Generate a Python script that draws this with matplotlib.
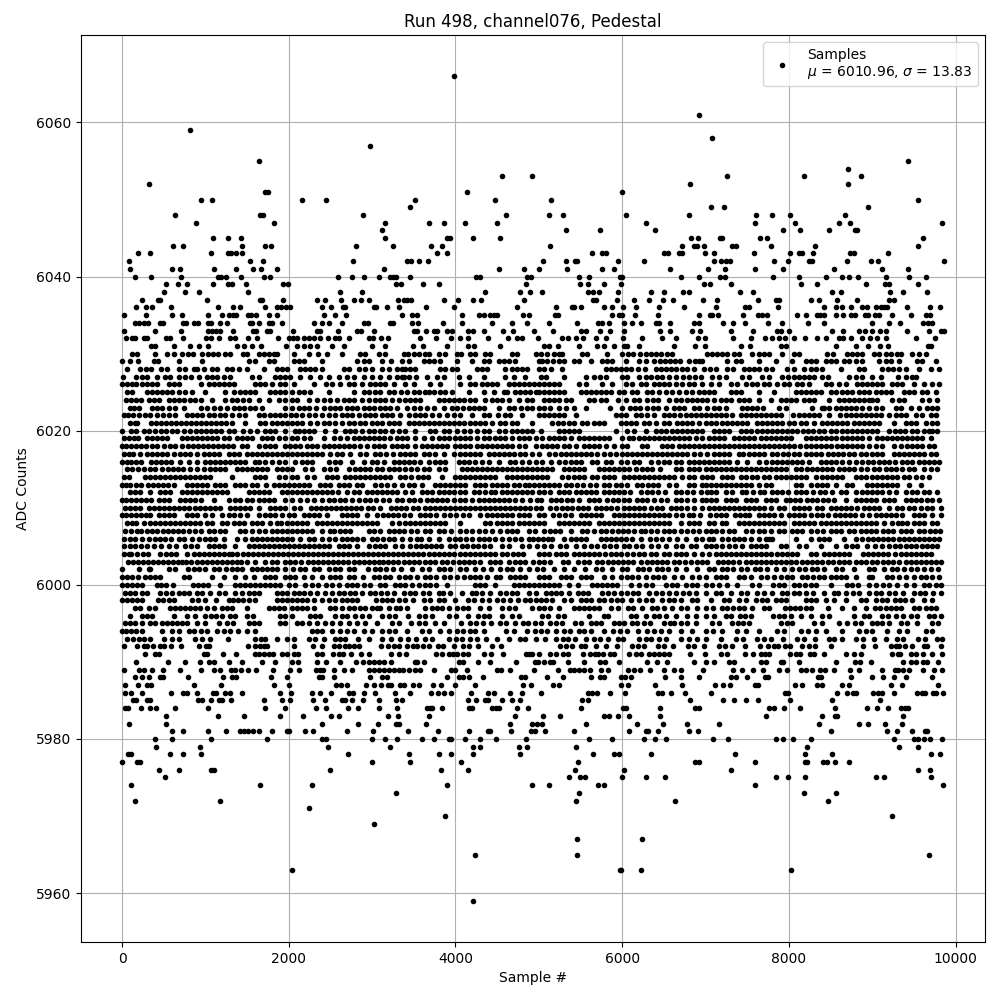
import matplotlib
matplotlib.use("Agg")
import matplotlib.pyplot as plt

title = "Run 498, channel076, Pedestal"
legend_label = "Samples\n$\\mu$ = 6010.96, $\\sigma$ = 13.83"

# Sample positions, one list per ADC level.
# Levels outside 5993-6031 are read point by point; the dense core is estimated.
samples_by_level = {
5959: [4216],
5963: [2040, 5972, 5980, 6220, 8024],
5965: [4240, 5452, 9680],
5967: [5452, 6232],
5969: [3024],
5970: [3880, 9236],
5971: [2244],
5972: [156, 1176, 5440, 6628, 8468],
5973: [3288, 5476, 8180, 8564],
5974: [108, 1656, 2280, 3904, 4924, 5116, 5704, 5776, 7592, 9848],
5975: [516, 5356, 5488, 5548, 5992, 6280, 6508, 7844, 7988, 8192, 9044, 9140, 9704],
5976: [444, 684, 1068, 1104, 2496, 3832, 4156, 5428, 6016, 7304, 9548, 9692],
5977: [0, 180, 216, 3000, 3460, 4072, 5472, 6876, 6916, 7592, 8192, 8216, 8408, 8456, 8552, 8720],
5978: [72, 104, 576, 732, 948, 2712, 3448, 3808, 3952, 4216, 4780, 5644, 5896, 5956, 6340, 7352, 8192, 8516, 9704, 9812],
5979: [408, 936, 2472, 3216, 4216, 4300, 4768, 4864, 5440, 8216, 9320, 9548],
5980: [396, 600, 1068, 1740, 2400, 2448, 3000, 3156, 3300, 3604, 3748, 3928, 3952, 4120, 4300, 4492, 4852, 5596, 5872, 6256, 6388, 6520, 7088, 7268, 7844, 7928, 8048, 8264, 9260, 9500, 9548, 9620, 9692, 9836],
5981: [600, 732, 1032, 1248, 1416, 1464, 1512, 1572, 1644, 1800, 1980, 2004, 2196, 2292, 2700, 3012, 3436, 3796, 4168, 4396, 4420, 4672, 4912, 4948, 5068, 5416, 6076, 6280, 6304, 6424, 6796, 6904, 8504, 9176, 9296, 9476, 9632, 9656],
5982: [84, 528, 2400, 2832, 3072, 3288, 3324, 3652, 4660, 4924, 4972, 5032, 5560, 6172, 6484, 6772, 7160, 8360, 8840, 8948, 9152, 9356],
5983: [528, 1152, 1464, 1896, 2172, 2508, 2604, 3192, 3312, 3688, 4720, 5044, 5248, 5776, 5836, 5944, 6076, 6448, 7724, 8396, 8552, 8576, 9368],
5984: [36, 72, 228, 336, 408, 636, 1032, 1716, 1956, 2328, 2448, 2712, 2832, 3084, 3300, 3664, 3700, 3724, 3844, 4168, 4204, 4444, 4492, 4528, 4744, 4876, 5500, 6004, 6040, 6448, 6872, 6920, 7760, 7820, 7940, 8132, 8552, 8936, 9056, 9188, 9344, 9392, 9428],
5985: [132, 168, 300, 336, 912, 960, 1068, 1164, 1200, 1308, 1704, 1920, 2016, 2292, 2436, 2640, 2676, 2760, 2892, 3084, 3288, 3364, 4156, 4252, 4360, 4396, 4564, 4684, 4780, 5512, 5584, 6808, 7208, 7340, 7484, 7628, 8012, 8516, 9092],
5986: [36, 108, 240, 588, 732, 780, 900, 1092, 1128, 1236, 1296, 1440, 1896, 2028, 2280, 2376, 2508, 2724, 2772, 2904, 3036, 3276, 3460, 3712, 3796, 3868, 3952, 4192, 4396, 4468, 4660, 4804, 5020, 5584, 5632, 5692, 5848, 6028, 6424, 6472, 6580, 6748, 7064, 7952, 7988, 8576, 8696, 8768, 8804, 9008, 9068, 9116, 9260, 9536, 9596, 9632, 9728, 9764, 9848],
5987: [36, 192, 300, 348, 864, 1188, 1824, 2004, 2568, 2628, 2700, 2928, 3024, 3108, 3192, 3228, 3336, 3388, 3496, 3568, 3736, 3832, 4000, 4240, 4816, 4912, 5164, 5236, 5980, 6064, 6388, 6712, 7112, 7208, 7292, 7592, 7628, 8072, 8156, 8336, 8396, 8636, 8720, 9224, 9356, 9788],
5988: [156, 240, 324, 456, 492, 792, 1212, 1320, 1368, 1788, 1980, 2364, 2400, 2544, 2976, 3120, 3180, 3904, 4048, 4096, 4168, 4336, 4792, 4840, 5092, 5284, 5620, 5728, 5776, 5980, 6028, 6100, 6508, 6700, 6916, 7304, 7364, 7492, 7708, 7744, 8348, 8384, 8744, 8996, 9128, 9260, 9404, 9716],
5989: [24, 204, 264, 360, 492, 696, 948, 1104, 1176, 1308, 1356, 1428, 1512, 1608, 1812, 2016, 2124, 2328, 2376, 2412, 2544, 2664, 2760, 2964, 3024, 3084, 3144, 3204, 3264, 3324, 3376, 3448, 3520, 3580, 3748, 3952, 4000, 4144, 4504, 4552, 4660, 4936, 5224, 5368, 5416, 5476, 5536, 5608, 5740, 5824, 6064, 6136, 6208, 6328, 6496, 6616, 6700, 6968, 7328, 7436, 7568, 7688, 7880, 7976, 8144, 8204, 8276, 8372, 8432, 8540, 8732, 8840, 9116, 9272, 9308, 9368, 9440, 9608, 9740, 9836],
5990: [168, 552, 756, 936, 1044, 1104, 1284, 1440, 1680, 1836, 2040, 2112, 2340, 2448, 2616, 2808, 2892, 2964, 3024, 3084, 3144, 3228, 3520, 3544, 3628, 4048, 4096, 4276, 4420, 4732, 4948, 4984, 5056, 5128, 5164, 5344, 5536, 5728, 5788, 5956, 6292, 6412, 6532, 6856, 7004, 7100, 7280, 7340, 7664, 7724, 7904, 7928, 8120, 8564, 8792, 8852, 8984, 9368, 9464, 9524, 9608, 9656, 9788],
5991: [276, 396, 444, 984, 1020, 1212, 1368, 1596, 1644, 1704, 1764, 1812, 1920, 1980, 2064, 2112, 2340, 2400, 2532, 2604, 2652, 2748, 2868, 2964, 3228, 3324, 3412, 3772, 3844, 3928, 3976, 4024, 4096, 4156, 4348, 4432, 4576, 4852, 4888, 4924, 4996, 5128, 5200, 5284, 5344, 5524, 5608, 5668, 5704, 5764, 5848, 5896, 6076, 6160, 6220, 6316, 6376, 6436, 6496, 6556, 6808, 6992, 7184, 7256, 7472, 7568, 7664, 7712, 7760, 8012, 8084, 8132, 8252, 8300, 8420, 8684, 8780, 8864, 9236, 9308, 9332, 9464, 9524, 9608, 9716, 9836],
5992: [24, 180, 264, 300, 372, 456, 504, 588, 708, 924, 1008, 1044, 1512, 1596, 1656, 1704, 1740, 2064, 2292, 2400, 2544, 2604, 2676, 2724, 2784, 2844, 3108, 3192, 3264, 3324, 3424, 3496, 3544, 3616, 3688, 3796, 3856, 3988, 4096, 4168, 4276, 4444, 4552, 5248, 5320, 5392, 5500, 5548, 5680, 5800, 5932, 6112, 6184, 6256, 6424, 6496, 6604, 6784, 6856, 6980, 7160, 7232, 7316, 7472, 7652, 7748, 7820, 7868, 7952, 8012, 8156, 8240, 8312, 8504, 8888, 9032, 9224, 9284, 9320, 9392, 9476, 9620, 9656, 9824],
5993: [60, 130, 200, 260, 330, 500, 600, 680, 880, 960, 1060, 1270, 1600, 1670, 1720, 1860, 1980, 2060, 2240, 2320, 2420, 2560, 2620, 2680, 2830, 2960, 3120, 3230, 3330, 3430, 3530, 3640, 3720, 3920, 4010, 4080, 4180, 4260, 4370, 4500, 4640, 4780, 4840, 4970, 5070, 5200, 5290, 5350, 5430, 5570, 5660, 5730, 5830, 5950, 6010, 6200, 6280, 6340, 6440, 6520, 6700, 6800, 6900, 7000, 7180, 7360, 7450, 7620, 7700, 7780, 7930, 8100, 8180, 8310, 8480, 8540, 8640, 8800, 8890, 9020, 9160, 9300, 9370, 9550, 9630, 9780, 9840],
5994: [0, 50, 110, 170, 240, 480, 600, 680, 800, 860, 950, 1020, 1140, 1220, 1290, 1390, 1500, 1600, 2280, 2340, 2400, 2520, 2620, 2700, 2780, 2900, 3000, 3120, 3200, 3280, 3420, 3600, 3680, 3820, 3920, 4020, 4090, 4170, 4240, 4340, 4610, 4700, 4860, 4950, 5020, 5100, 5200, 5300, 5370, 5480, 5540, 5620, 5780, 5890, 5970, 6060, 6190, 6300, 6380, 6460, 6560, 6700, 6840, 7000, 7090, 7200, 7380, 7490, 7640, 7860, 7940, 8140, 8230, 8330, 8450, 8640, 8840, 8930, 9000, 9180, 9320, 9420, 9640, 9720],
5995: [40, 100, 160, 240, 330, 400, 480, 540, 600, 660, 720, 780, 900, 1000, 1160, 1260, 1330, 1520, 1580, 1640, 1900, 1960, 2100, 2160, 2240, 2340, 2430, 2520, 2620, 2720, 2820, 2920, 3060, 3240, 3320, 3470, 3560, 3640, 3760, 3860, 4070, 4180, 4250, 4330, 4430, 4540, 4610, 4720, 4810, 4870, 4950, 5020, 5130, 5210, 5280, 5430, 5500, 5620, 5680, 5740, 5900, 5960, 6020, 6120, 6180, 6260, 6330, 6500, 6570, 6620, 6700, 6780, 6880, 7080, 7160, 7320, 7390, 7450, 7520, 7900, 7980, 8040, 8300, 8400, 8600, 8700, 8790, 8860, 9000, 9060, 9120, 9200, 9340, 9420, 9540, 9720, 9790],
5996: [90, 240, 300, 360, 620, 780, 880, 1000, 1070, 1130, 1200, 1300, 1360, 1500, 1570, 1900, 1960, 2040, 2260, 2320, 2380, 2560, 2640, 2700, 2800, 2880, 2960, 3120, 3200, 3280, 3430, 3560, 3640, 3720, 3920, 4010, 4150, 4270, 4340, 4400, 4560, 4680, 4760, 5040, 5110, 5230, 5300, 5600, 5780, 5830, 6100, 6160, 6280, 6380, 6440, 6520, 6640, 6780, 6880, 7000, 7100, 7240, 7300, 7410, 7470, 7540, 7810, 7880, 7940, 8020, 8140, 8260, 8400, 8480, 8780, 8900, 8960, 9120, 9190, 9280, 9370, 9460, 9540, 9680, 9740, 9820],
5997: [150, 220, 320, 400, 580, 640, 700, 760, 820, 880, 940, 1020, 1100, 1200, 1260, 1320, 1500, 1760, 1820, 1880, 1940, 2040, 2100, 2160, 2220, 2300, 2500, 2560, 2640, 2720, 2780, 2850, 2920, 3000, 3060, 3100, 3200, 3290, 3340, 3420, 3640, 3720, 3780, 3840, 3920, 4020, 4090, 4150, 4300, 4400, 4560, 4640, 4720, 4920, 5000, 5060, 5130, 5240, 5420, 5480, 5540, 5600, 5660, 5720, 5860, 5950, 6070, 6130, 6240, 6360, 6420, 6500, 6600, 6700, 6780, 6900, 7000, 7090, 7200, 7260, 7330, 7400, 7460, 7560, 7700, 7760, 7950, 8010, 8070, 8130, 8200, 8260, 8470, 8640, 8780, 8920, 9030, 9090, 9160, 9220, 9280, 9340, 9500, 9560, 9640, 9700, 9760],
5998: [0, 60, 120, 180, 240, 430, 490, 560, 620, 840, 910, 990, 1130, 1280, 1330, 1390, 1450, 1520, 1600, 1860, 1920, 1980, 2040, 2100, 2160, 2220, 2300, 2400, 2480, 2560, 2640, 2700, 2760, 2820, 3050, 3120, 3180, 3240, 3320, 3400, 3490, 3620, 3700, 3800, 3860, 4000, 4150, 4220, 4320, 4400, 4500, 4570, 4650, 4750, 4830, 4900, 4960, 5030, 5090, 5160, 5300, 5380, 5500, 5560, 5620, 5720, 5780, 5870, 5940, 6000, 6100, 6200, 6290, 6360, 6480, 6560, 6620, 6700, 6840, 6900, 7060, 7220, 7280, 7400, 7480, 7610, 7680, 7740, 7840, 7910, 7970, 8200, 8270, 8320, 8440, 8540, 8680, 8860, 8920, 9040, 9120, 9180, 9270, 9330, 9390, 9480, 9620, 9720],
5999: [30, 100, 160, 240, 300, 460, 530, 600, 680, 740, 800, 900, 960, 1060, 1160, 1240, 1360, 1440, 1520, 1580, 1640, 1860, 1920, 1980, 2060, 2120, 2180, 2260, 2340, 2440, 2520, 2600, 2660, 2730, 2800, 2880, 2980, 3040, 3110, 3180, 3260, 3380, 3450, 3520, 3610, 3680, 3800, 3850, 3930, 4080, 4200, 4250, 4320, 4420, 4530, 4610, 4680, 4740, 4880, 4970, 5080, 5140, 5200, 5260, 5360, 5470, 5530, 5590, 5760, 5830, 5900, 5980, 6060, 6130, 6190, 6320, 6400, 6480, 6560, 6640, 6730, 6800, 6880, 7000, 7120, 7180, 7300, 7420, 7500, 7620, 7700, 7800, 7920, 7980, 8060, 8120, 8210, 8290, 8420, 8540, 8590, 8680, 8770, 8840, 8960, 9040, 9100, 9200, 9270, 9370, 9500, 9570, 9630, 9730, 9820],
6000: [0, 60, 120, 180, 240, 420, 470, 530, 610, 850, 910, 970, 1030, 1180, 1360, 1420, 1480, 1540, 1600, 1660, 1720, 1780, 1840, 1900, 2000, 2080, 2200, 2280, 2350, 2450, 2520, 2600, 2700, 2760, 2820, 2900, 2980, 3100, 3160, 3270, 3330, 3400, 3480, 3560, 3640, 3700, 3770, 3900, 4240, 4290, 4350, 4480, 4700, 4760, 4820, 4880, 4940, 5000, 5060, 5120, 5180, 5240, 5360, 5470, 5640, 5700, 5760, 5820, 5880, 5940, 6110, 6200, 6290, 6360, 6530, 6600, 6660, 6760, 6840, 6900, 7000, 7080, 7160, 7260, 7380, 7560, 7640, 7810, 7880, 7940, 8060, 8120, 8190, 8260, 8320, 8500, 8700, 8760, 8830, 8960, 9040, 9130, 9200, 9300, 9400, 9500, 9620, 9680, 9760, 9820],
6001: [0, 60, 120, 190, 270, 330, 390, 460, 740, 800, 1080, 1220, 1350, 1480, 1580, 1720, 1780, 1840, 1960, 2020, 2080, 2180, 2280, 2400, 2500, 2560, 2620, 2720, 2780, 2890, 3020, 3080, 3150, 3220, 3320, 3400, 3460, 3540, 3640, 3700, 3770, 3860, 3940, 4020, 4100, 4170, 4230, 4290, 4380, 4490, 4540, 4650, 4710, 4770, 4830, 5000, 5060, 5120, 5260, 5320, 5380, 5500, 5560, 5620, 5780, 5880, 5980, 6060, 6120, 6190, 6280, 6370, 6430, 6500, 6620, 6720, 6840, 6920, 7000, 7120, 7180, 7240, 7400, 7460, 7540, 7660, 7740, 7820, 7900, 7980, 8040, 8160, 8220, 8290, 8360, 8420, 8500, 8560, 8620, 8680, 8800, 8960, 9000, 9180, 9240, 9320, 9400, 9500, 9580, 9640, 9720, 9800],
6002: [0, 200, 320, 340, 560, 640, 790, 860, 920, 1000, 1100, 1160, 1250, 1320, 1380, 1440, 1560, 1620, 1680, 1740, 1800, 1860, 1950, 2050, 2130, 2200, 2300, 2360, 2480, 2560, 2620, 2720, 2780, 2950, 3040, 3100, 3170, 3250, 3350, 3480, 3600, 3680, 3800, 3860, 3930, 4050, 4130, 4230, 4330, 4430, 4530, 4620, 4680, 4780, 4880, 4980, 5050, 5180, 5300, 5420, 5550, 5680, 5760, 5880, 6000, 6060, 6190, 6250, 6320, 6420, 6480, 6550, 6650, 6760, 6900, 7040, 7100, 7200, 7260, 7330, 7420, 7500, 7590, 7650, 7740, 7850, 7940, 8040, 8120, 8190, 8280, 8340, 8420, 8560, 8640, 8780, 8960, 9020, 9140, 9240, 9300, 9380, 9460, 9540, 9620, 9700, 9790],
6003: [70, 130, 190, 250, 310, 370, 430, 490, 550, 610, 670, 720, 770, 830, 900, 960, 1020, 1080, 1140, 1200, 1260, 1320, 1380, 1430, 1500, 1600, 1720, 1800, 1860, 1950, 2010, 2070, 2150, 2230, 2290, 2350, 2410, 2470, 2530, 2590, 2650, 2710, 2780, 2840, 2900, 2960, 3020, 3080, 3130, 3190, 3250, 3310, 3380, 3440, 3500, 3560, 3640, 3700, 3760, 3840, 3900, 3970, 4040, 4100, 4160, 4220, 4300, 4420, 4480, 4540, 4640, 4710, 4770, 4830, 4930, 5000, 5060, 5130, 5290, 5350, 5470, 5540, 5600, 5700, 5760, 5830, 5890, 5950, 6010, 6070, 6130, 6220, 6300, 6360, 6420, 6480, 6540, 6620, 6680, 6750, 6830, 6900, 6960, 7020, 7150, 7210, 7270, 7330, 7400, 7480, 7540, 7600, 7660, 7720, 7780, 7840, 7910, 7970, 8030, 8090, 8160, 8220, 8280, 8340, 8400, 8470, 8530, 8600, 8660, 8720, 8800, 8860, 8920, 9000, 9060, 9130, 9190, 9250, 9320, 9400, 9460, 9520, 9580, 9640, 9700, 9760, 9820],
6004: [20, 80, 110, 180, 250, 310, 460, 530, 590, 650, 780, 860, 920, 980, 1040, 1100, 1160, 1220, 1280, 1320, 1380, 1450, 1510, 1570, 1630, 1690, 1750, 1810, 1870, 1930, 1990, 2050, 2110, 2170, 2230, 2290, 2350, 2410, 2470, 2530, 2590, 2650, 2710, 2770, 2830, 2890, 2950, 3010, 3070, 3130, 3190, 3250, 3310, 3370, 3430, 3490, 3550, 3610, 3680, 3740, 3800, 3860, 3920, 3980, 4050, 4120, 4180, 4240, 4300, 4360, 4420, 4480, 4560, 4620, 4690, 4750, 4810, 5000, 5060, 5120, 5200, 5260, 5320, 5420, 5480, 5540, 5600, 5660, 5720, 5790, 5860, 5920, 5980, 6060, 6130, 6200, 6260, 6340, 6400, 6500, 6560, 6640, 6700, 6760, 6860, 6960, 7040, 7120, 7180, 7240, 7300, 7360, 7420, 7480, 7540, 7600, 7660, 7720, 7780, 7860, 7920, 7980, 8040, 8100, 8260, 8320, 8420, 8480, 8540, 8600, 8660, 8720, 8890, 8950, 9010, 9070, 9130, 9190, 9270, 9340, 9400, 9460, 9520, 9580, 9640, 9700],
6005: [20, 100, 160, 230, 300, 380, 470, 560, 650, 750, 830, 900, 1040, 1100, 1160, 1220, 1350, 1520, 1580, 1640, 1700, 1760, 1820, 1880, 1940, 2000, 2060, 2120, 2180, 2240, 2300, 2360, 2420, 2480, 2600, 2660, 2720, 2820, 2960, 3040, 3100, 3160, 3280, 3360, 3450, 3530, 3590, 3650, 3710, 3770, 3830, 3940, 4000, 4080, 4140, 4210, 4270, 4340, 4410, 4560, 4640, 4800, 4880, 4980, 5060, 5150, 5250, 5330, 5440, 5540, 5620, 5700, 5780, 5850, 5930, 6020, 6080, 6160, 6240, 6340, 6430, 6520, 6640, 6720, 6820, 6880, 7000, 7060, 7120, 7200, 7280, 7350, 7440, 7540, 7610, 7670, 7730, 7900, 7960, 8120, 8200, 8380, 8560, 8680, 8760, 8820, 8940, 9030, 9120, 9200, 9270, 9330, 9410, 9470, 9530, 9600, 9660, 9720, 9780],
6006: [20, 90, 150, 240, 320, 400, 460, 520, 590, 680, 740, 840, 920, 1000, 1060, 1120, 1220, 1380, 1480, 1560, 1620, 1680, 1740, 1800, 1860, 1920, 1980, 2040, 2130, 2240, 2300, 2400, 2480, 2560, 2640, 2700, 2760, 2820, 2890, 3000, 3060, 3130, 3200, 3260, 3360, 3450, 3540, 3590, 3680, 3800, 3920, 4000, 4060, 4130, 4200, 4280, 4340, 4400, 4480, 4560, 4640, 4720, 4790, 4880, 4930, 4990, 5050, 5110, 5160, 5300, 5380, 5440, 5500, 5560, 5740, 5810, 5860, 5930, 5990, 6050, 6120, 6230, 6330, 6400, 6480, 6560, 6660, 6760, 6880, 6960, 7040, 7090, 7200, 7270, 7340, 7400, 7460, 7540, 7640, 7720, 7760, 7800, 8080, 8260, 8360, 8420, 8480, 8660, 8810, 8880, 8950, 9010, 9070, 9130, 9190, 9250, 9320, 9380, 9440, 9500, 9560, 9620, 9680, 9740, 9800],
6007: [40, 110, 180, 230, 300, 360, 420, 490, 550, 610, 670, 730, 800, 880, 950, 1040, 1100, 1180, 1230, 1420, 1480, 1560, 1640, 1720, 1800, 1860, 1920, 1980, 2040, 2100, 2160, 2220, 2280, 2400, 2490, 2540, 2620, 2680, 2740, 2960, 3020, 3090, 3200, 3260, 3320, 3380, 3470, 3540, 3640, 3700, 3800, 3860, 3950, 4060, 4130, 4200, 4280, 4360, 4440, 4540, 4620, 4680, 4740, 4880, 4950, 5060, 5130, 5190, 5250, 5380, 5520, 5580, 5660, 5750, 5800, 5880, 5950, 6010, 6070, 6140, 6220, 6270, 6340, 6420, 6500, 6560, 6620, 6700, 6780, 6850, 6920, 7000, 7060, 7130, 7200, 7280, 7340, 7490, 7560, 7640, 7700, 7780, 7880, 7940, 8040, 8100, 8160, 8260, 8340, 8410, 8500, 8560, 8620, 8720, 8780, 8860, 8920, 8980, 9040, 9130, 9190, 9250, 9340, 9400, 9460, 9560, 9620, 9690, 9750, 9810],
6008: [60, 120, 170, 260, 340, 400, 460, 520, 580, 640, 700, 760, 820, 880, 940, 1020, 1080, 1200, 1260, 1340, 1400, 1460, 1560, 1620, 1680, 1780, 1860, 1910, 1980, 2040, 2100, 2160, 2220, 2340, 2400, 2460, 2520, 2580, 2640, 2700, 2760, 2820, 2880, 2940, 3000, 3060, 3240, 3320, 3400, 3460, 3520, 3580, 3640, 3700, 3760, 3820, 3880, 4050, 4350, 4420, 4500, 4560, 4620, 4680, 4760, 4820, 4880, 4940, 5000, 5060, 5240, 5300, 5360, 5420, 5480, 5540, 5600, 5720, 5780, 5840, 5900, 5960, 6020, 6080, 6140, 6200, 6260, 6320, 6380, 6440, 6500, 6560, 6700, 6800, 6860, 6920, 7040, 7100, 7200, 7250, 7400, 7460, 7520, 7580, 7640, 7700, 7760, 7820, 7880, 7940, 8060, 8120, 8180, 8240, 8300, 8380, 8450, 8500, 8560, 8620, 8680, 8740, 8800, 8860, 8920, 8980, 9040, 9140, 9240, 9310, 9360, 9420, 9500, 9560, 9620, 9720, 9780],
6009: [0, 50, 110, 170, 230, 290, 340, 440, 500, 560, 620, 780, 840, 900, 1000, 1080, 1200, 1280, 1340, 1420, 1500, 1640, 1720, 1780, 1840, 1920, 2000, 2060, 2180, 2240, 2300, 2360, 2460, 2640, 2700, 2760, 2820, 2940, 3060, 3130, 3190, 3250, 3310, 3380, 3460, 3570, 3630, 3690, 3770, 3860, 3940, 4010, 4090, 4160, 4300, 4380, 4440, 4500, 4560, 4620, 4680, 4760, 4820, 4880, 5000, 5060, 5170, 5240, 5310, 5380, 5510, 5570, 5630, 5690, 5750, 5900, 5960, 6020, 6080, 6140, 6200, 6260, 6320, 6380, 6440, 6500, 6560, 6640, 6720, 6800, 6850, 6930, 7050, 7130, 7190, 7250, 7350, 7410, 7470, 7520, 7640, 7700, 7760, 7820, 7900, 8000, 8060, 8120, 8180, 8260, 8340, 8400, 8470, 8550, 8610, 8670, 8730, 8790, 8880, 8960, 9040, 9100, 9160, 9220, 9280, 9360, 9500, 9560, 9620, 9720, 9830],
6010: [40, 100, 160, 220, 320, 380, 440, 500, 560, 620, 680, 740, 800, 880, 940, 1000, 1060, 1120, 1180, 1300, 1360, 1420, 1480, 1540, 1640, 1780, 1840, 1900, 1960, 2060, 2140, 2270, 2330, 2390, 2450, 2510, 2570, 2630, 2690, 2750, 2810, 2870, 2950, 3010, 3100, 3230, 3290, 3350, 3410, 3490, 3550, 3640, 3700, 3760, 3820, 3880, 3940, 4000, 4060, 4120, 4180, 4240, 4300, 4360, 4420, 4480, 4540, 4600, 4660, 4720, 4780, 4840, 4900, 4960, 5020, 5130, 5200, 5280, 5340, 5400, 5470, 5530, 5590, 5680, 5740, 5800, 5860, 5940, 6020, 6080, 6140, 6200, 6260, 6350, 6420, 6480, 6580, 6650, 6700, 6780, 6860, 6960, 7040, 7100, 7160, 7220, 7280, 7340, 7400, 7460, 7520, 7580, 7640, 7700, 7780, 7880, 7940, 8060, 8120, 8180, 8240, 8340, 8400, 8500, 8560, 8620, 8680, 8740, 8820, 8900, 8960, 9020, 9080, 9200, 9300, 9360, 9440, 9500, 9580, 9660, 9720, 9830],
6011: [0, 50, 110, 170, 230, 290, 350, 440, 500, 560, 700, 760, 820, 880, 950, 1100, 1280, 1360, 1420, 1500, 1560, 1640, 1700, 1760, 1820, 1960, 2040, 2140, 2220, 2300, 2400, 2480, 2540, 2620, 2680, 2760, 2840, 2920, 2980, 3050, 3130, 3200, 3300, 3360, 3440, 3500, 3580, 3660, 3720, 3780, 3840, 3900, 3980, 4050, 4120, 4200, 4280, 4340, 4400, 4460, 4520, 4580, 4640, 4720, 4800, 4890, 4980, 5030, 5140, 5200, 5260, 5340, 5400, 5480, 5600, 5660, 5720, 5820, 5890, 5950, 6020, 6080, 6180, 6240, 6300, 6380, 6460, 6540, 6640, 6700, 6780, 6860, 6960, 7000, 7060, 7120, 7240, 7300, 7360, 7480, 7540, 7610, 7720, 7780, 7840, 7960, 8010, 8070, 8130, 8220, 8280, 8340, 8410, 8470, 8540, 8690, 8800, 8860, 8920, 8980, 9040, 9140, 9200, 9260, 9400, 9460, 9520, 9580, 9660, 9720, 9800],
6012: [90, 150, 220, 340, 460, 520, 580, 720, 780, 840, 900, 960, 1020, 1080, 1140, 1200, 1260, 1520, 1580, 1640, 1700, 1760, 1920, 1980, 2040, 2100, 2160, 2220, 2280, 2340, 2400, 2460, 2520, 2590, 2700, 2780, 2840, 2940, 3000, 3060, 3120, 3180, 3240, 3300, 3400, 3480, 3600, 3660, 3720, 3800, 3860, 3920, 3980, 4050, 4120, 4220, 4280, 4360, 4430, 4480, 4560, 4620, 4680, 4740, 4800, 4860, 4920, 5000, 5060, 5130, 5240, 5300, 5360, 5440, 5510, 5570, 5630, 5690, 5780, 5840, 5900, 5960, 6020, 6090, 6220, 6300, 6360, 6430, 6510, 6650, 6710, 6780, 6850, 6950, 7020, 7070, 7130, 7240, 7320, 7440, 7490, 7570, 7650, 7700, 7800, 7860, 7920, 7990, 8080, 8150, 8210, 8290, 8370, 8430, 8520, 8620, 8680, 8800, 8880, 8940, 9000, 9060, 9120, 9200, 9290, 9400, 9480, 9540, 9620, 9680, 9780],
6013: [0, 50, 100, 170, 230, 310, 370, 430, 490, 550, 620, 780, 840, 900, 960, 1020, 1120, 1180, 1240, 1360, 1420, 1480, 1560, 1620, 1730, 1820, 1880, 1940, 2000, 2060, 2120, 2180, 2240, 2380, 2440, 2500, 2600, 2660, 2720, 2820, 2880, 3040, 3110, 3180, 3260, 3360, 3440, 3500, 3600, 3760, 3820, 3880, 3940, 4000, 4060, 4120, 4240, 4300, 4360, 4440, 4500, 4560, 4620, 4700, 4760, 4840, 4880, 4940, 5000, 5060, 5120, 5180, 5240, 5320, 5380, 5460, 5530, 5610, 5690, 5780, 5840, 5930, 5990, 6060, 6180, 6240, 6310, 6370, 6430, 6560, 6640, 6800, 6860, 6960, 7000, 7060, 7120, 7180, 7240, 7300, 7360, 7420, 7480, 7540, 7640, 7720, 7780, 8080, 8140, 8260, 8340, 8400, 8460, 8560, 8700, 8760, 8940, 9000, 9060, 9120, 9180, 9240, 9300, 9440, 9590],
6014: [20, 80, 280, 340, 400, 460, 520, 580, 640, 700, 760, 820, 880, 940, 1000, 1060, 1320, 1600, 1660, 1720, 1880, 1960, 2040, 2100, 2220, 2300, 2460, 2520, 2580, 2680, 2740, 2800, 2860, 2920, 2980, 3040, 3100, 3160, 3220, 3340, 3400, 3470, 3550, 3610, 3670, 3840, 4000, 4060, 4120, 4180, 4240, 4300, 4360, 4420, 4480, 4620, 4680, 4740, 4800, 4860, 4920, 4980, 5040, 5100, 5280, 5350, 5420, 5480, 5540, 5640, 5700, 5780, 5840, 5900, 6020, 6080, 6140, 6200, 6260, 6320, 6380, 6440, 6500, 6560, 6620, 6720, 6800, 6860, 6960, 7020, 7080, 7200, 7260, 7320, 7420, 7480, 7560, 7620, 7700, 7760, 7840, 7900, 7960, 8020, 8080, 8140, 8200, 8320, 8400, 8460, 8520, 8580, 8640, 8800, 8860, 8920, 9000, 9060, 9120, 9180, 9240, 9300, 9380, 9440, 9520, 9600, 9680],
6015: [60, 120, 190, 260, 340, 400, 480, 550, 610, 670, 730, 820, 900, 980, 1060, 1120, 1180, 1240, 1380, 1440, 1500, 1560, 1620, 1680, 1740, 1860, 1920, 1980, 2040, 2200, 2280, 2420, 2500, 2570, 2720, 2800, 2860, 2920, 2980, 3060, 3120, 3200, 3260, 3320, 3400, 3470, 3540, 3620, 3680, 3800, 3880, 4080, 4140, 4200, 4260, 4320, 4380, 4440, 4500, 4560, 4620, 4680, 4740, 4800, 4860, 4920, 4980, 5040, 5100, 5160, 5300, 5360, 5420, 5480, 5540, 5720, 5780, 5840, 5900, 5960, 6020, 6080, 6160, 6240, 6300, 6360, 6450, 6650, 6710, 6800, 6860, 6920, 7000, 7060, 7120, 7180, 7240, 7300, 7360, 7420, 7480, 7540, 7600, 7660, 7720, 7780, 7840, 7900, 7960, 8080, 8150, 8220, 8280, 8340, 8400, 8460, 8520, 8600, 8660, 8720, 8780, 8860, 8940, 9020, 9080, 9160, 9220, 9280, 9360, 9440, 9500, 9620, 9700, 9780],
6016: [0, 60, 110, 170, 230, 350, 410, 470, 530, 590, 690, 800, 900, 1000, 1060, 1120, 1180, 1240, 1300, 1360, 1420, 1480, 1600, 1640, 1720, 1800, 1880, 1960, 2080, 2160, 2220, 2280, 2480, 2560, 2620, 2760, 2900, 3000, 3060, 3140, 3260, 3320, 3380, 3440, 3500, 3580, 3680, 3760, 3820, 3880, 4040, 4100, 4160, 4240, 4320, 4400, 4520, 4660, 4720, 4800, 4880, 4960, 5040, 5150, 5240, 5310, 5380, 5440, 5500, 5640, 5700, 5800, 5860, 5980, 6060, 6140, 6200, 6350, 6430, 6500, 6560, 6640, 6700, 6800, 6860, 6920, 6980, 7040, 7100, 7160, 7220, 7280, 7380, 7500, 7640, 7720, 7800, 7860, 7920, 7980, 8040, 8100, 8160, 8240, 8380, 8450, 8510, 8570, 8640, 8720, 8800, 8880, 8950, 9010, 9080, 9140, 9200, 9270, 9360, 9420, 9480, 9560, 9620, 9680, 9740, 9800],
6017: [20, 80, 130, 220, 300, 360, 420, 480, 540, 620, 700, 760, 820, 900, 980, 1040, 1100, 1160, 1280, 1340, 1400, 1500, 1560, 1620, 1680, 1740, 1800, 1860, 1920, 1980, 2040, 2100, 2160, 2220, 2280, 2340, 2400, 2500, 2580, 2640, 2740, 2860, 2930, 3040, 3100, 3170, 3250, 3330, 3400, 3460, 3520, 3620, 3680, 3760, 3860, 3980, 4060, 4120, 4180, 4240, 4300, 4400, 4460, 4520, 4580, 4640, 4700, 4780, 4840, 4920, 5000, 5120, 5190, 5260, 5320, 5380, 5440, 5500, 5560, 5620, 5700, 5780, 5850, 5930, 6000, 6060, 6120, 6180, 6240, 6300, 6360, 6420, 6480, 6540, 6600, 6660, 6720, 6780, 6860, 6930, 7020, 7100, 7160, 7220, 7280, 7400, 7450, 7520, 7580, 7640, 7700, 7800, 7860, 7930, 7990, 8060, 8120, 8200, 8270, 8330, 8390, 8470, 8530, 8590, 8650, 8720, 8780, 8860, 8920, 9000, 9060, 9120, 9260, 9320, 9380, 9440, 9500, 9560, 9620, 9700, 9760],
6018: [0, 50, 110, 170, 230, 290, 360, 420, 500, 570, 630, 720, 790, 850, 910, 970, 1030, 1090, 1150, 1210, 1270, 1330, 1440, 1500, 1640, 1720, 1780, 1840, 1960, 2020, 2080, 2140, 2220, 2280, 2340, 2420, 2480, 2540, 2600, 2660, 2720, 2780, 2860, 2940, 3020, 3080, 3140, 3240, 3300, 3360, 3420, 3520, 3600, 3660, 3720, 3780, 3840, 3900, 4000, 4060, 4120, 4180, 4260, 4320, 4380, 4440, 4500, 4560, 4620, 4680, 4760, 4830, 4960, 5040, 5100, 5160, 5220, 5300, 5360, 5440, 5540, 5600, 5660, 5720, 5800, 5900, 6000, 6060, 6240, 6300, 6480, 6540, 6600, 6680, 6740, 6800, 6860, 6920, 6980, 7040, 7100, 7160, 7220, 7280, 7340, 7400, 7460, 7520, 7580, 7640, 7700, 7760, 7820, 7880, 7940, 8000, 8060, 8130, 8200, 8260, 8320, 8380, 8440, 8500, 8580, 8640, 8700, 8760, 8820, 8880, 8960, 9040, 9120, 9260, 9340, 9420, 9480, 9540, 9600, 9680, 9740],
6019: [20, 80, 140, 190, 300, 360, 420, 480, 540, 720, 780, 840, 900, 960, 1020, 1080, 1140, 1220, 1280, 1380, 1440, 1500, 1560, 1680, 1740, 1800, 1880, 1960, 2040, 2100, 2180, 2260, 2420, 2540, 2620, 2700, 2780, 2840, 2900, 2960, 3020, 3080, 3140, 3220, 3300, 3360, 3420, 3520, 3620, 3720, 3800, 3860, 3920, 4000, 4060, 4120, 4180, 4260, 4340, 4400, 4480, 4540, 4600, 4680, 4760, 4820, 4880, 4960, 5040, 5120, 5180, 5240, 5300, 5380, 5480, 5540, 5600, 5660, 5720, 5780, 5840, 6000, 6080, 6130, 6200, 6260, 6320, 6380, 6440, 6500, 6560, 6620, 6680, 6740, 6800, 6880, 6960, 7040, 7100, 7160, 7220, 7340, 7400, 7460, 7520, 7580, 7660, 7720, 7780, 7840, 7900, 7960, 8020, 8200, 8260, 8320, 8380, 8440, 8500, 8560, 8640, 8700, 8760, 8820, 8880, 8960, 9060, 9120, 9180, 9240, 9300, 9360, 9420, 9480, 9540, 9600, 9700],
6020: [0, 110, 170, 260, 320, 400, 470, 530, 600, 660, 740, 810, 890, 950, 1010, 1070, 1130, 1190, 1280, 1340, 1450, 1540, 1620, 1720, 1780, 1840, 1960, 2080, 2120, 2180, 2240, 2300, 2440, 2560, 2680, 2740, 2800, 2880, 2960, 3020, 3100, 3160, 3240, 3320, 3400, 3520, 3700, 3760, 3860, 3920, 4020, 4100, 4180, 4260, 4340, 4400, 4520, 4600, 4680, 4740, 4800, 4860, 4920, 5030, 5240, 5300, 5360, 5420, 5480, 5920, 6060, 6140, 6290, 6400, 6470, 6530, 6600, 6660, 6720, 6780, 6840, 6900, 6960, 7100, 7160, 7220, 7280, 7420, 7480, 7540, 7620, 7680, 7740, 7800, 7860, 7920, 7980, 8040, 8100, 8170, 8230, 8290, 8360, 8420, 8500, 8560, 8640, 8700, 8760, 8820, 8880, 8940, 9000, 9060, 9200, 9270, 9330, 9390, 9480, 9540, 9620, 9680, 9720, 9780],
6021: [90, 150, 180, 350, 410, 470, 530, 590, 650, 710, 770, 830, 890, 950, 1010, 1070, 1130, 1190, 1250, 1320, 1480, 1650, 1720, 1800, 1860, 1920, 1980, 2040, 2100, 2160, 2250, 2340, 2420, 2480, 2560, 2640, 2720, 2780, 2860, 2920, 3000, 3060, 3120, 3200, 3260, 3320, 3440, 3500, 3560, 3620, 3680, 3740, 3800, 3860, 3920, 3980, 4040, 4100, 4180, 4240, 4300, 4360, 4440, 4540, 4600, 4680, 4740, 4920, 5160, 5230, 5290, 5360, 5420, 5520, 5580, 5660, 5720, 5780, 5980, 6040, 6100, 6160, 6260, 6320, 6400, 6500, 6560, 6660, 6720, 6780, 6840, 6920, 7000, 7060, 7120, 7200, 7260, 7320, 7380, 7440, 7500, 7620, 7680, 7740, 7800, 7860, 7920, 8000, 8060, 8140, 8200, 8300, 8400, 8460, 8520, 8580, 8640, 8700, 8780, 8840, 8900, 8960, 9020, 9080, 9260, 9400, 9460, 9520, 9640, 9720, 9780],
6022: [20, 70, 130, 200, 280, 340, 420, 490, 560, 640, 780, 840, 900, 960, 1040, 1100, 1180, 1240, 1320, 1400, 1480, 1640, 1700, 1780, 1840, 1900, 1960, 2030, 2090, 2160, 2240, 2320, 2400, 2480, 2560, 2640, 2700, 2760, 2840, 2920, 2980, 3040, 3120, 3180, 3240, 3340, 3440, 3520, 3580, 3640, 3720, 3800, 3900, 3980, 4060, 4200, 4340, 4400, 4510, 4590, 4650, 4800, 5000, 5060, 5120, 5180, 5240, 5300, 5440, 5920, 5980, 6040, 6170, 6230, 6300, 6380, 6500, 6560, 6620, 6690, 6760, 6820, 6880, 6940, 7000, 7060, 7120, 7180, 7240, 7320, 7420, 7480, 7540, 7600, 7660, 7720, 7780, 7840, 7900, 8050, 8120, 8180, 8240, 8300, 8360, 8480, 8610, 8680, 8740, 8800, 8860, 8920, 8980, 9040, 9100, 9200, 9280, 9340, 9400, 9520, 9600, 9700, 9760],
6023: [90, 140, 200, 360, 420, 480, 560, 640, 740, 950, 1020, 1100, 1180, 1260, 1340, 1400, 1460, 1540, 1600, 1680, 1960, 2040, 2120, 2180, 2240, 2330, 2420, 2500, 2560, 2620, 2700, 2760, 2820, 2900, 2960, 3020, 3100, 3160, 3220, 3300, 3420, 3500, 3580, 3660, 3740, 3860, 3960, 4020, 4090, 4160, 4220, 4280, 4340, 4520, 4640, 4700, 4790, 4860, 4920, 5000, 5060, 5130, 5240, 5320, 5420, 5570, 5850, 6000, 6090, 6150, 6210, 6300, 6370, 6430, 6520, 6620, 6680, 6740, 6860, 6920, 7020, 7100, 7160, 7240, 7440, 7500, 7560, 7620, 7690, 7880, 7960, 8280, 8400, 8420, 8480, 8560, 8620, 8680, 8740, 8800, 8880, 8960, 9040, 9120, 9280, 9340, 9460, 9560, 9660, 9720, 9780],
6024: [50, 110, 170, 230, 320, 380, 440, 560, 620, 680, 740, 810, 880, 950, 1080, 1240, 1320, 1380, 1450, 1520, 1640, 1760, 1880, 1960, 2040, 2100, 2240, 2340, 2420, 2500, 2580, 2660, 2720, 2780, 2880, 2960, 3040, 3100, 3160, 3240, 3320, 3400, 3460, 3520, 3580, 3800, 3860, 3920, 3980, 4040, 4100, 4180, 4240, 4360, 4440, 4500, 4560, 4640, 4760, 4860, 4920, 5060, 5120, 5180, 5240, 5320, 5380, 5600, 5660, 5740, 5800, 5950, 6050, 6140, 6200, 6300, 6370, 6430, 6560, 6640, 6700, 6780, 6840, 6900, 6960, 7020, 7100, 7180, 7250, 7310, 7400, 7460, 7520, 7640, 7780, 7900, 7960, 8020, 8090, 8180, 8240, 8300, 8480, 8600, 8660, 8720, 8780, 8840, 8900, 8960, 9000, 9060, 9240, 9320, 9380, 9600, 9680, 9780],
6025: [60, 120, 300, 360, 420, 480, 540, 600, 680, 760, 840, 1000, 1240, 1340, 1420, 1480, 1540, 1600, 1780, 1840, 1900, 1960, 2040, 2120, 2180, 2260, 2480, 2780, 2900, 2960, 3030, 3100, 3200, 3260, 3350, 3420, 3500, 3560, 3640, 3680, 3740, 3820, 3880, 3960, 4160, 4340, 4460, 4580, 4620, 4720, 4780, 4840, 4900, 4960, 5000, 5060, 5120, 5180, 5240, 5300, 5500, 5560, 5620, 5680, 5740, 5800, 5860, 5960, 6020, 6120, 6180, 6300, 6360, 6440, 6520, 6600, 6680, 6760, 6840, 6920, 6980, 7040, 7100, 7300, 7360, 7420, 7640, 7820, 8080, 8140, 8200, 8260, 8320, 8380, 8500, 8560, 8640, 8700, 8760, 8840, 8900, 8960, 9040, 9100, 9160, 9220, 9380, 9440, 9500, 9600, 9660, 9760],
6026: [0, 60, 120, 170, 240, 300, 360, 420, 560, 620, 680, 950, 1040, 1100, 1160, 1220, 1280, 1340, 1600, 1660, 1720, 1800, 1900, 1960, 2060, 2300, 2450, 2520, 2620, 2720, 2780, 2880, 2980, 3040, 3100, 3160, 3260, 3400, 3500, 3700, 3820, 4060, 4180, 4240, 4320, 4380, 4440, 4500, 4640, 4700, 4760, 4820, 4880, 4940, 5000, 5060, 5120, 5180, 5240, 5480, 5560, 5760, 5880, 6040, 6120, 6220, 6280, 6380, 6440, 6500, 6560, 6640, 6720, 6800, 6860, 6960, 7060, 7160, 7300, 7380, 7480, 7560, 7620, 7700, 7760, 7860, 7940, 8000, 8100, 8160, 8240, 8440, 8500, 8600, 8680, 8820, 8880, 8940, 9000, 9060, 9120, 9240, 9300, 9360, 9500, 9620, 9720, 9800],
6027: [10, 170, 240, 300, 420, 520, 580, 680, 760, 830, 920, 1020, 1080, 1140, 1220, 1300, 1560, 1640, 1840, 1900, 1960, 2020, 2140, 2260, 2380, 2480, 2600, 2700, 2780, 2900, 3000, 3100, 3200, 3300, 3360, 3380, 3440, 3530, 3660, 3780, 3860, 4040, 4160, 4340, 4600, 4700, 4840, 5020, 5090, 5300, 5560, 5660, 5730, 5800, 6000, 6060, 6200, 6280, 6340, 6420, 6480, 6560, 6650, 6730, 6800, 6870, 6940, 7080, 7160, 7240, 7440, 7520, 7680, 7760, 7920, 7990, 8060, 8120, 8180, 8240, 8300, 8400, 8470, 8720, 8800, 8880, 9000, 9100, 9310, 9400, 9480, 9520],
6028: [60, 220, 290, 350, 470, 540, 680, 760, 860, 900, 980, 1080, 1140, 1260, 1320, 1400, 1500, 1700, 1860, 1920, 1980, 2140, 2200, 2260, 2320, 2400, 2660, 2720, 2840, 2920, 3000, 3120, 3200, 3300, 3360, 3400, 3450, 3520, 3820, 3880, 3960, 4020, 4260, 4320, 4380, 4600, 4680, 4740, 4800, 4860, 5000, 5060, 5140, 5280, 5800, 5860, 5920, 5980, 6040, 6110, 6190, 6270, 6400, 6460, 6520, 6580, 6640, 6720, 6780, 6860, 6980, 7050, 7120, 7260, 7330, 7460, 7520, 7580, 7640, 7720, 7800, 7980, 8060, 8180, 8260, 8320, 8400, 8620, 8840, 8900, 9120, 9190, 9250, 9320, 9400, 9560, 9700, 9800],
6029: [0, 90, 190, 380, 430, 680, 960, 1520, 1600, 1760, 1820, 2060, 2120, 2180, 2400, 2820, 2900, 2960, 3120, 3230, 3360, 3440, 3620, 3680, 3740, 3820, 4020, 4200, 4340, 4400, 4520, 4580, 4640, 4720, 5000, 5040, 5100, 5170, 5240, 5300, 5420, 5480, 5620, 5760, 5820, 5880, 6040, 6200, 6280, 6380, 6450, 6510, 6570, 6630, 6690, 6800, 6870, 6920, 6960, 7260, 7360, 7430, 7640, 7840, 8040, 8200, 8260, 8320, 8440, 8500, 8560, 8660, 8720, 8800, 8880, 9080, 9160, 9220, 9320, 9540, 9600, 9760],
6030: [120, 180, 400, 540, 620, 720, 790, 850, 960, 1030, 1090, 1150, 1240, 1300, 1450, 1500, 1640, 1700, 1760, 1820, 1860, 2060, 2240, 2350, 2460, 2640, 2860, 2920, 3080, 3150, 3380, 3430, 3500, 3560, 3640, 3680, 3800, 3880, 4020, 4070, 4180, 4230, 4360, 4420, 4680, 4740, 4960, 5020, 5100, 5180, 5240, 5280, 5520, 5580, 5820, 6000, 6070, 6130, 6210, 6280, 6340, 6400, 6460, 6540, 6600, 7020, 7080, 7140, 7200, 7260, 7340, 7400, 7560, 7640, 7700, 7760, 7920, 8060, 8120, 8460, 8530, 8700, 8760, 8820, 8880, 9020, 9080, 9160, 9220, 9300, 9350, 9480, 9560, 9640],
6031: [344, 400, 624, 812, 924, 1036, 1384, 1460, 1564, 1672, 1964, 2104, 2180, 2260, 2340, 2524, 2664, 3004, 3156, 3496, 3616, 3904, 4156, 4220, 4536, 5056, 5116, 5224, 5476, 5696, 5784, 5896, 6016, 6056, 6196, 6616, 6868, 6988, 7428, 7528, 7908, 7968, 8568, 8808, 8948, 9088, 9188, 9668, 9708],
6032: [48, 120, 156, 264, 300, 528, 576, 732, 1008, 1068, 1164, 1296, 1356, 1512, 1620, 1872, 2004, 2052, 2100, 2184, 2244, 2304, 2376, 2472, 2556, 2604, 2724, 2964, 3012, 3108, 3192, 3580, 3772, 3952, 4060, 4156, 4396, 4636, 4744, 4804, 4984, 5272, 5344, 5440, 5524, 5680, 5800, 6004, 6232, 6472, 6640, 6908, 6992, 7328, 7544, 7712, 7796, 7880, 7952, 8064, 8192, 8336, 8444, 8600, 8648, 8744, 8876, 8972, 9056, 9164, 9524, 9752],
6033: [24, 396, 708, 1032, 1080, 1128, 1176, 1332, 1572, 1608, 1740, 1776, 2052, 2340, 2376, 2592, 2820, 2868, 3024, 3508, 3544, 3652, 3748, 3784, 3904, 3964, 4156, 4216, 4348, 4576, 4696, 4936, 5164, 5500, 5560, 5728, 5848, 6016, 6448, 6568, 6836, 6932, 7304, 7568, 7856, 7904, 8000, 8516, 8648, 8840, 8912, 8996, 9092, 9164, 9416, 9680, 9824, 9860],
6034: [156, 204, 264, 312, 456, 492, 732, 768, 864, 912, 1032, 1068, 1176, 1260, 1536, 1560, 1644, 1764, 1800, 1920, 2304, 2400, 2484, 2640, 2904, 2952, 3216, 3252, 3484, 3556, 3856, 4084, 4444, 4684, 4864, 5116, 5452, 5704, 5752, 5836, 6016, 6112, 6220, 6400, 6436, 6568, 6856, 6916, 7208, 7328, 7472, 7748, 7916, 8228, 8420, 8996, 9200, 9332, 9608, 9668, 9716],
6035: [24, 288, 600, 720, 1032, 1200, 1284, 1332, 1368, 1512, 1548, 1608, 1764, 1860, 2424, 2556, 2688, 3364, 3484, 3544, 4084, 4288, 4348, 4420, 4468, 4504, 4816, 4888, 5188, 5224, 5872, 5956, 5992, 6148, 6424, 6916, 7056, 7080, 7152, 7448, 7628, 7672, 7736, 8096, 8204, 8336, 8372, 8420, 8564, 8644, 8744, 8792, 8912, 8948, 9032, 9080, 9236, 9464, 9644, 9692],
6036: [168, 288, 360, 588, 1152, 1332, 1416, 1716, 1860, 1908, 1968, 2016, 2400, 2508, 2652, 2676, 3024, 3048, 3180, 3324, 3652, 3988, 4744, 5200, 5392, 5416, 5500, 5776, 5872, 6004, 6160, 6436, 6736, 7124, 7472, 7520, 7868, 8420, 8564, 8636, 8744, 8876, 8936, 9044, 9104, 9140, 9176, 9412, 9692, 9812],
6037: [240, 432, 456, 1020, 1656, 1680, 1932, 2340, 2436, 2628, 2784, 2868, 2964, 3312, 3388, 3424, 3472, 3868, 4036, 4216, 4312, 4828, 5644, 5680, 5932, 6136, 6316, 6484, 6604, 6968, 7136, 7628, 7844, 7880, 8264, 8360, 8576, 8816, 9200, 9260],
6038: [504, 756, 924, 1512, 2616, 2880, 4360, 4780, 4900, 5032, 5584, 5644, 5716, 5944, 6340, 6496, 6724, 6796, 7412, 7568, 8516, 8624, 9212, 9368, 9656],
6039: [528, 672, 780, 1092, 1272, 1320, 1488, 1932, 1992, 3288, 3344, 3616, 3808, 4852, 5488, 5584, 5776, 5980, 6980, 7052, 7304, 8144, 8336, 8924, 9152, 9200, 9548],
6040: [156, 348, 708, 1152, 1192, 1248, 1428, 1704, 1776, 2592, 2760, 2904, 3084, 3216, 3252, 3288, 3460, 4252, 4300, 4864, 4912, 5476, 5596, 5968, 5992, 6700, 6916, 7172, 7232, 7808, 8120, 8444, 8636, 8720, 8828, 9164, 9440, 9644],
6041: [96, 600, 696, 1104, 1368, 1572, 1668, 1860, 3144, 4528, 4828, 4996, 5332, 5752, 5896, 6568, 7028, 7232, 7592, 7928, 8540, 9116, 9428],
6042: [84, 1536, 1692, 2772, 3424, 3472, 3568, 3676, 5044, 5320, 5428, 5452, 5944, 6256, 7100, 7184, 7244, 7292, 7820, 7988, 8240, 8276, 8696, 8984, 9068, 9860],
6043: [192, 336, 1068, 1272, 1308, 1368, 1440, 3784, 3904, 5632, 5752, 5800, 6496, 6544, 6676, 6712, 6992, 7100, 7580, 8012, 8120, 8156, 8288, 8732, 8780, 9188],
6044: [612, 732, 1440, 1716, 1788, 2808, 3252, 3712, 3844, 5128, 6712, 6856, 6892, 6980, 7316, 7364, 7784, 8312, 9548],
6045: [1092, 1272, 1428, 3156, 3904, 3940, 4216, 4540, 6820, 6904, 7172, 7196, 7652, 7736, 9608],
6046: [3120, 5320, 5728, 6388, 7928, 8132, 8480, 8792, 8816],
6047: [888, 1824, 3156, 3688, 3868, 4120, 4504, 6280, 7592, 8072, 8600, 8732, 9836],
6048: [636, 1656, 1692, 2892, 4612, 5116, 5284, 6040, 6800, 7604, 7796, 8012, 8672],
6049: [3460, 7064, 7220, 8948],
6050: [948, 1080, 2160, 2448, 3520, 4480, 5140, 9548],
6051: [1716, 1752, 4144, 5992],
6052: [324, 6812, 8708],
6053: [4564, 4924, 7256, 8180, 8864],
6054: [8708],
6055: [1644, 9428],
6057: [2976],
6058: [7076],
6059: [816],
6061: [6916],
6066: [3988],
}

sample_idx = [x for lv, xs in samples_by_level.items() for x in xs]
adc_counts = [lv for lv, xs in samples_by_level.items() for x in xs]

fig, ax = plt.subplots(figsize=(10, 10), dpi=100)
ax.plot(sample_idx, adc_counts, ".", color="black", label=legend_label)
ax.set_title(title)
ax.set_xlabel("Sample #")
ax.set_ylabel("ADC Counts")
ax.grid(True)
ax.legend(loc="upper right")
fig.subplots_adjust(left=0.081, right=0.985, top=0.965, bottom=0.058)
fig.savefig("out.png", dpi=100)
